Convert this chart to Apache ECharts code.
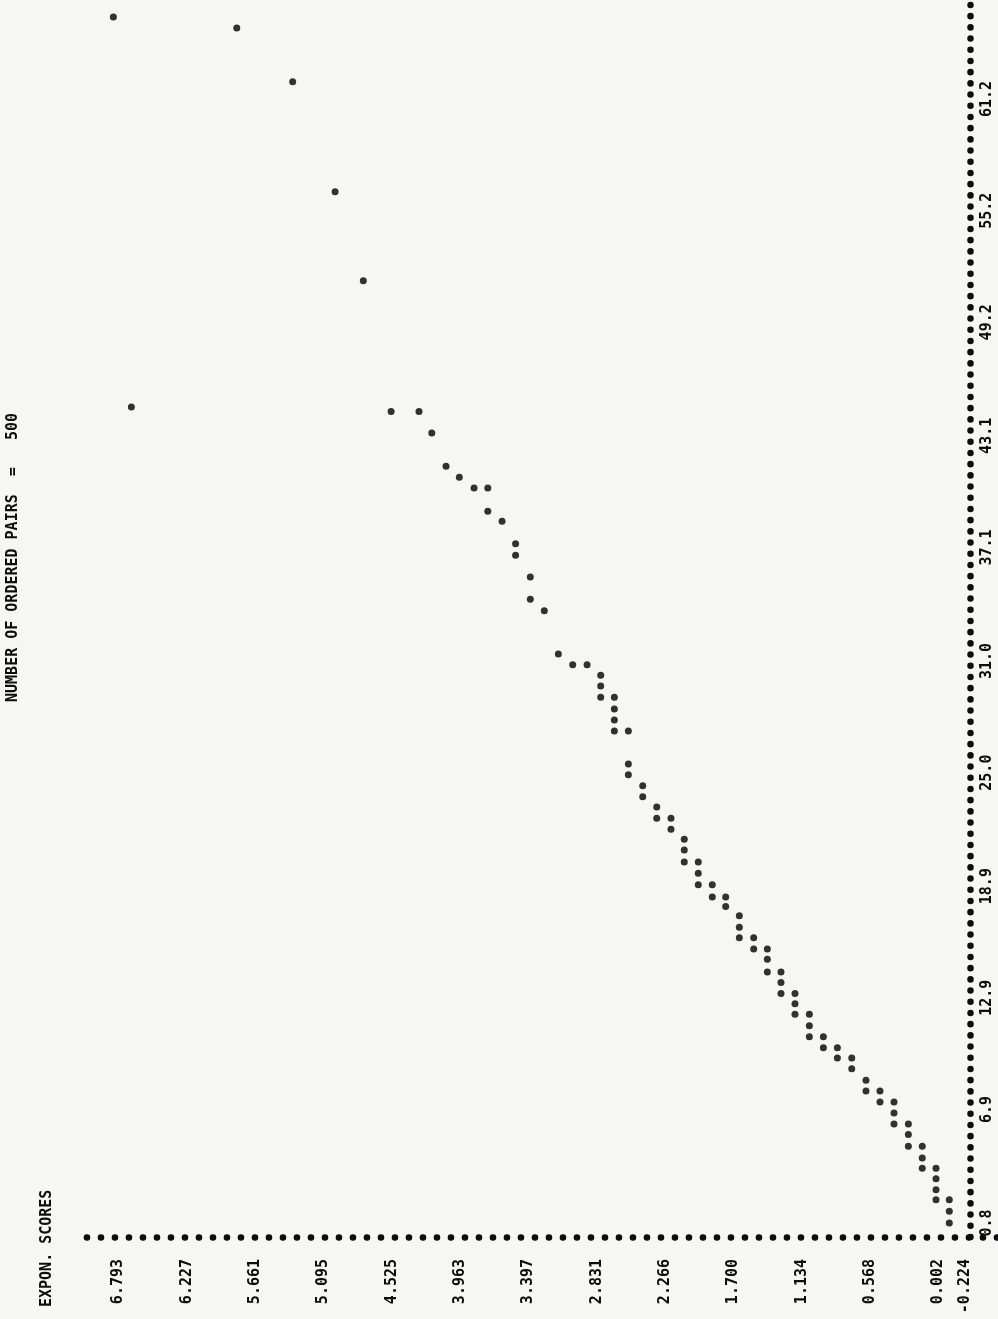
<!DOCTYPE html>
<html>
<head>
<meta charset="utf-8">
<script src="https://cdn.jsdelivr.net/npm/echarts@6/dist/echarts.min.js"></script>
<style>
html,body{margin:0;padding:0;background:#f6f6f5;}
#chart{width:998px;height:1319px;}
</style>
</head>
<body>
<div id="chart"></div>
<script>
// Tick labels
const scoreTicks = [-0.224, 0.002, 0.568, 1.134, 1.700, 2.266, 2.831, 3.397, 3.963, 4.525, 5.095, 5.661, 6.227, 6.793];
const pairTicks = [0.8, 6.9, 12.9, 18.9, 25.0, 31.0, 37.1, 43.1, 49.2, 55.2, 61.2];

// Points: exponential score and ordered value
const expScores = [
-0.089,-0.089,-0.089,0.021,0.021,0.021,0.021,0.135,0.135,0.135,
0.250,0.250,0.250,0.369,0.369,0.369,0.485,0.485,0.601,0.601,
0.719,0.719,0.838,0.838,0.954,0.954,1.070,1.070,1.070,1.189,
1.189,1.189,1.305,1.305,1.305,1.418,1.418,1.418,1.531,1.531,
1.650,1.650,1.650,1.763,1.763,1.874,1.874,1.990,1.990,1.990,
2.106,2.106,2.106,2.216,2.216,2.334,2.334,2.450,2.450,2.569,
2.569,2.569,2.685,2.685,2.685,2.685,2.798,2.798,2.798,2.911,
3.030,3.149,3.265,3.381,3.381,3.503,3.503,3.615,3.733,3.733,
3.847,3.969,4.079,4.197,4.303,4.534,6.685,4.764,4.998,5.349,
5.812,6.834];
const orderedValues = [
0.80,1.43,2.05,2.05,2.59,3.18,3.74,3.74,4.29,4.92,
4.92,5.55,6.12,6.12,6.71,7.30,7.30,7.89,7.89,8.47,
9.09,9.67,9.67,10.22,10.22,10.81,10.81,11.40,12.01,12.01,
12.58,13.13,13.13,13.72,14.29,14.29,14.97,15.52,15.52,16.12,
16.12,16.69,17.31,17.80,18.32,18.32,18.98,18.98,19.59,20.20,
20.20,20.84,21.42,21.96,22.55,22.55,23.15,23.71,24.30,24.89,
25.47,27.24,27.24,27.83,28.42,29.05,29.05,29.66,30.23,30.80,
30.80,31.38,33.70,34.32,35.51,36.68,37.30,38.51,39.05,40.30,
40.30,40.87,41.46,43.25,44.41,44.41,44.65,51.44,56.22,62.13,
65.02,65.61];

const titleText = 'NUMBER OF ORDERED PAIRS  =   500';
const scoreAxisName = 'EXPON. SCORES';

const points = expScores.map((s, i) => [s, orderedValues[i]]);
const ink = '#0d0d0d';
const monoFont = '"DejaVu Sans Mono", "Liberation Mono", monospace';

const chart = echarts.init(document.getElementById('chart'), null, {renderer: 'canvas'});
chart.setOption({
  animation: false,
  backgroundColor: '#f6f6f5',
  grid: {left: 85, right: 1, top: 3, bottom: 82, containLabel: false},
  xAxis: {
    type: 'value',
    inverse: true,
    min: -0.484,
    max: 7.069,
    position: 'bottom',
    axisLine: {show: true, onZero: false, lineStyle: {color: ink, width: 6.5, type: [0.1, 13.9], cap: 'round'}},
    axisTick: {show: false},
    splitLine: {show: false},
    axisLabel: {
      customValues: scoreTicks,
      rotate: 90,
      margin: 22,
      color: ink,
      fontFamily: monoFont,
      fontWeight: 'bold',
      fontSize: 15,
      formatter: v => v.toFixed(3)
    }
  },
  yAxis: {
    type: 'value',
    min: 0.045,
    max: 66.36,
    position: 'right',
    offset: -27,
    axisLine: {show: true, onZero: false, lineStyle: {color: ink, width: 6.5, type: [0.1, 11.1], cap: 'round'}},
    axisTick: {show: false},
    splitLine: {show: false},
    axisLabel: {
      customValues: pairTicks,
      rotate: 90,
      margin: 10,
      color: ink,
      fontFamily: monoFont,
      fontWeight: 'bold',
      fontSize: 15,
      formatter: v => v.toFixed(1)
    }
  },
  graphic: [
    {
      type: 'text', x: 47, y: 1307, rotation: Math.PI / 2,
      style: {text: scoreAxisName, fill: ink, font: 'bold 15px ' + monoFont, align: 'left', verticalAlign: 'middle'}
    },
    {
      type: 'text', x: 13, y: 413, rotation: Math.PI / 2,
      style: {text: titleText, fill: ink, font: 'bold 15px ' + monoFont, align: 'right', verticalAlign: 'middle'}
    }
  ],
  series: [{
    type: 'scatter',
    data: points,
    symbol: 'circle',
    symbolSize: 7,
    itemStyle: {color: '#000'},
    silent: true
  }]
});
</script>
</body>
</html>
